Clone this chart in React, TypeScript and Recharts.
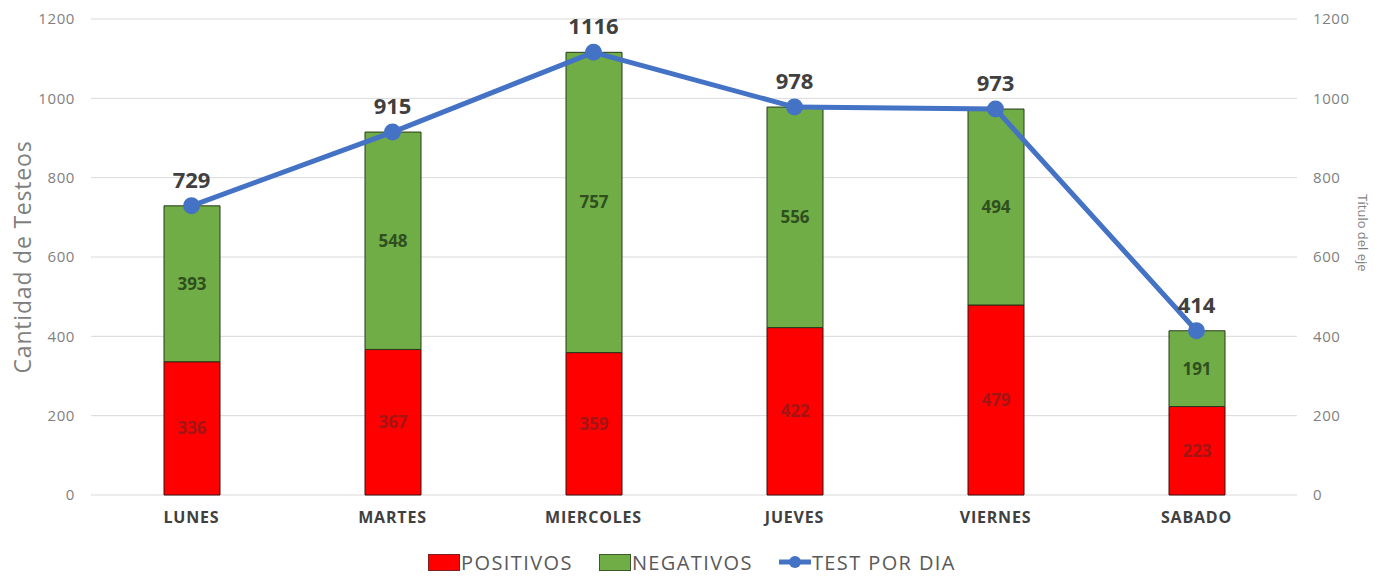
import {
  ComposedChart,
  Bar,
  Line,
  XAxis,
  YAxis,
  CartesianGrid,
  Legend,
  LabelList,
} from 'recharts'

const dias = ['LUNES', 'MARTES', 'MIERCOLES', 'JUEVES', 'VIERNES', 'SABADO']
const positivos = [336, 367, 359, 422, 479, 223]
const negativos = [393, 548, 757, 556, 494, 191]
const testPorDia = [729, 915, 1116, 978, 973, 414]
const yTicks = [0, 200, 400, 600, 800, 1000, 1200]

const data = dias.map((dia, i) => ({
  dia,
  positivos: positivos[i],
  negativos: negativos[i],
  total: testPorDia[i],
}))

const FONT = '"Open Sans", "DejaVu Sans", sans-serif'

function LegendBox() {
  const item = { display: 'flex', alignItems: 'center', marginRight: 26 }
  const txt = { fontSize: 20, color: '#595959', fontFamily: FONT, letterSpacing: 1.4 }
  return (
    <div style={{ display: 'flex', justifyContent: 'center', height: 30, alignItems: 'center', paddingLeft: 26 }}>
      <div style={item}>
        <span style={{ width: 30, height: 15, background: '#FF0000', border: '1px solid #7f2020', display: 'inline-block', marginRight: 1 }} />
        <span style={txt}>POSITIVOS</span>
      </div>
      <div style={item}>
        <span style={{ width: 30, height: 15, background: '#70AD47', border: '1px solid #3a5a28', display: 'inline-block', marginRight: 1 }} />
        <span style={txt}>NEGATIVOS</span>
      </div>
      <div style={item}>
        <svg width={32} height={16} style={{ marginRight: 1 }}>
          <line x1={0} y1={8} x2={32} y2={8} stroke="#4472C4" strokeWidth={5} />
          <circle cx={16} cy={8} r={6} fill="#4472C4" />
        </svg>
        <span style={txt}>TEST POR DIA</span>
      </div>
    </div>
  )
}

export default function App() {
  return (
    <div style={{ width: 1384, height: 577, background: '#fff' }}>
      <style>{'body{margin:0}'}</style>
      <ComposedChart
        width={1384}
        height={577}
        data={data}
        margin={{ top: 19, right: 0, bottom: 0, left: 0 }}
        barCategoryGap={0}
      >
        <CartesianGrid vertical={false} stroke="#d9d9d9" yAxisId="left" />
        <XAxis
          dataKey="dia"
          height={52}
          axisLine={false}
          tickLine={false}
          tickMargin={11}
          tick={{ fontSize: 16, fontWeight: 700, fill: '#404040', fontFamily: FONT, letterSpacing: 0.8 }}
        />
        <YAxis
          yAxisId="left"
          width={91}
          domain={[0, 1200]}
          ticks={yTicks}
          axisLine={false}
          tickLine={false}
          tickMargin={10}
          tick={{ fontSize: 15, fill: '#7f7f7f', fontFamily: FONT, letterSpacing: 0.6 }}
          label={{
            value: 'Cantidad de Testeos',
            angle: -90,
            position: 'insideLeft',
            dx: 18,
            dy: 0,
            style: { fontSize: 23, fill: '#7f7f7f', fontFamily: FONT, textAnchor: 'middle', letterSpacing: 0.8 },
          }}
        />
        <YAxis
          yAxisId="right"
          orientation="right"
          width={87}
          domain={[0, 1200]}
          ticks={yTicks}
          axisLine={false}
          tickLine={false}
          tickMargin={10}
          tick={{ fontSize: 15, fill: '#7f7f7f', fontFamily: FONT, letterSpacing: 0.6 }}
          label={{
            value: 'Título del eje',
            angle: 90,
            position: 'insideRight',
            dx: -16,
            dy: -24,
            style: { fontSize: 13, fill: '#7f7f7f', fontFamily: FONT, textAnchor: 'middle' },
          }}
        />
        <Legend verticalAlign="bottom" height={30} content={() => <LegendBox />} />
        <Bar
          yAxisId="left"
          dataKey="positivos"
          name="POSITIVOS"
          stackId="a"
          fill="#FF0000"
          stroke="#3a1010"
          strokeWidth={1}
          barSize={56}
          isAnimationActive={false}
        >
          <LabelList
            dataKey="positivos"
            position="center"
            style={{ fontSize: 17, fontWeight: 700, fill: '#a31515', fontFamily: FONT }}
          />
        </Bar>
        <Bar
          yAxisId="left"
          dataKey="negativos"
          name="NEGATIVOS"
          stackId="a"
          fill="#70AD47"
          stroke="#263a1a"
          strokeWidth={1}
          barSize={56}
          isAnimationActive={false}
        >
          <LabelList
            dataKey="negativos"
            position="center"
            style={{ fontSize: 17, fontWeight: 700, fill: '#2f4f1f', fontFamily: FONT }}
          />
        </Bar>
        <Line
          yAxisId="right"
          dataKey="total"
          stroke="none"
          dot={false}
          activeDot={false}
          legendType="none"
          isAnimationActive={false}
        />
        <Line
          yAxisId="left"
          dataKey="total"
          name="TEST POR DIA"
          stroke="#4472C4"
          strokeWidth={5}
          dot={{ r: 6, fill: '#4472C4', stroke: '#4472C4' }}
          isAnimationActive={false}
        >
          <LabelList
            dataKey="total"
            position="top"
            offset={18}
            style={{ fontSize: 22, fontWeight: 700, fill: '#404040', fontFamily: FONT }}
          />
        </Line>
      </ComposedChart>
    </div>
  )
}
